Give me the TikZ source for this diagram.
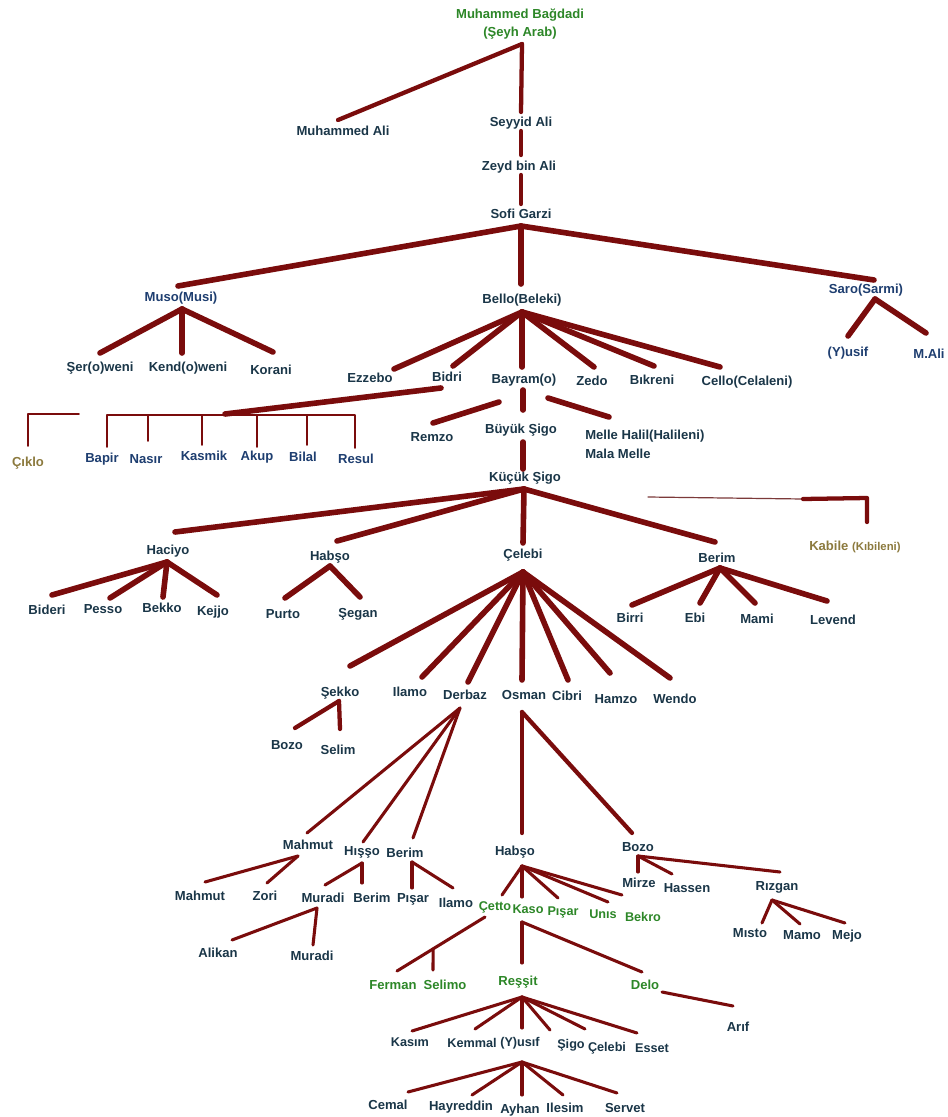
\documentclass[tikz,border=0pt]{standalone}
\usepackage{fontspec}
\setmainfont{Liberation Sans}
\usetikzlibrary{calc}
\definecolor{lnc}{RGB}{122,12,12}
\definecolor{txc}{RGB}{26,54,72}
\definecolor{blc}{RGB}{30,62,112}
\definecolor{grc}{RGB}{45,135,40}
\definecolor{olc}{RGB}{140,122,62}
\begin{document}
\begin{tikzpicture}[x=0.75pt,y=-0.75pt,line cap=round,line join=round,
  every node/.style={font=\bfseries\fontsize{9.8}{11}\selectfont,text=txc,inner sep=0pt},
  nmB/.style={text=blc},
  nmG/.style={text=grc},
  nmO/.style={text=olc},
  nmSm/.style={font=\bfseries\fontsize{9.5}{11}\selectfont},
  lnL/.style={draw=lnc,line width=4.2pt},
  lnM/.style={draw=lnc,line width=3.2pt},
  lnS/.style={draw=lnc,line width=2.3pt},
  lnT/.style={draw=lnc,line width=1.3pt},
  lnH/.style={draw=lnc!60!gray,line width=0.9pt}]
\fill[white] (0,0) rectangle (947,1117);
\useasboundingbox (0,0) rectangle (947,1117);

% ---------- top ----------
\node[nmG] (bag) at (520,15) {Muhammed Bağdadi};
\node[nmG] (seyh) at (520,33) {(Şeyh Arab)};
\coordinate (bagA) at (522,44);
\node (mali1) at (343,131) {Muhammed Ali};
\coordinate (mali1T) at (338,120);
\node (seyyid) at (521,123) {Seyyid Ali};
\coordinate (seyyidT) at (521,112);
\coordinate (seyyidB) at (521,131);
\node (zeyd) at (519,167) {Zeyd bin Ali};
\coordinate (zeydT) at (521,155);
\coordinate (zeydB) at (521,175);
\node (sofi) at (521,214) {Sofi Garzi};
\coordinate (sofiT) at (521,204);
\draw[lnM] (bagA) -- (mali1T);
\draw[lnM] (bagA) -- (seyyidT);
\draw[lnM] (seyyidB) -- (zeydT);
\draw[lnM] (zeydB) -- (sofiT);

% ---------- Sofi Garzi ----------
\coordinate (sofiA) at (521,226);
\coordinate (musoT) at (178,286);
\coordinate (belloT) at (521,284);
\coordinate (saroT) at (874,280);
\draw[lnL] (sofiA) -- (musoT);
\draw[lnL] (sofiA) -- (belloT);
\draw[lnL] (sofiA) -- (saroT);

% Muso
\node[nmB] (muso) at (181,298) {Muso(Musi)};
\coordinate (musoA) at (182,309);
\node (ser) at (100,368) {Şer(o)weni};
\node (kend) at (188,368) {Kend(o)weni};
\node (korani) at (271,370) {Korani};
\coordinate (serT) at (100,353);
\coordinate (kendT) at (182,353);
\coordinate (koraniT) at (273,352);
\draw[lnL] (musoA) -- (serT);
\draw[lnL] (musoA) -- (kendT);
\draw[lnL] (musoA) -- (koraniT);

% Bello
\node (bello) at (522,300) {Bello(Beleki)};
\coordinate (belloA) at (522,312);
\node (ezzebo) at (370,378) {Ezzebo};
\node (bidri) at (447,377) {Bidri};
\node (bayram) at (524,380) {Bayram(o)};
\node (zedo) at (592,381) {Zedo};
\node (bikreni) at (652,380) {Bıkreni};
\node (cello) at (747,382) {Cello(Celaleni)};
\coordinate (ezzeboT) at (394,369);
\coordinate (bidriT) at (453,366);
\coordinate (bayramT) at (522,367);
\coordinate (zedoT) at (594,367);
\coordinate (bikreniT) at (654,366);
\coordinate (celloT) at (720,367);
\foreach \c in {ezzeboT,bidriT,bayramT,zedoT,bikreniT,celloT}
  \draw[lnL] (belloA) -- (\c);

% Saro
\node[nmB] (saro) at (866,290) {Saro(Sarmi)};
\coordinate (saroA) at (875,299);
\node[nmB] (yusif) at (848,353) {(Y)usif};
\node[nmB] (mali2) at (929,354) {M.Ali};
\coordinate (yusifT) at (848,336);
\coordinate (mali2T) at (926,333);
\draw[lnL] (saroA) -- (yusifT);
\draw[lnL] (saroA) -- (mali2T);

% Bidri bracket
\coordinate (bidriB) at (441,388);
\coordinate (brJ) at (225,414);
\coordinate (brL) at (107,415);
\coordinate (brR) at (355,415);
\draw[lnL] (bidriB) -- (brJ);
\node[nmB] (bapir) at (102,459) {Bapir};
\node[nmB] (nasir) at (146,459) {Nasır};
\node[nmB] (kasmik) at (204,456) {Kasmik};
\node[nmB] (akup) at (257,457) {Akup};
\node[nmB] (bilal) at (303,457) {Bilal};
\node[nmB] (resul) at (356,459) {Resul};
\coordinate (bapirT) at (107,447);
\coordinate (nasirT) at (148,441);
\coordinate (kasmikT) at (202,445);
\coordinate (akupT) at (257,447);
\coordinate (bilalT) at (307,445);
\coordinate (resulT) at (355,448);
\draw[lnT] (bapirT) -- (brL) -- (brR) -- (resulT);
\foreach \c in {nasirT,kasmikT,akupT,bilalT}
  \draw[lnT] (\c) -- (\c |- brL);

% Ciklo
\node[nmO] (ciklo) at (28,463) {Çıklo};
\coordinate (cikloT) at (28,446);
\coordinate (cikL) at (28,414);
\coordinate (cikR) at (79,414);
\draw[lnT] (cikloT) -- (cikL) -- (cikR);

% Bayram
\coordinate (bayramB) at (523,390);
\node (buyuk) at (521,430) {Büyük Şigo};
\coordinate (buyukT) at (523,410);
\coordinate (buyukB) at (523,442);
\node (remzo) at (432,437) {Remzo};
\coordinate (remzoS) at (499,402);
\coordinate (remzoT) at (433,423);
\node[anchor=west] (melle) at (585,436) {Melle Halil(Halileni)};
\node[anchor=west] (mala) at (585,454) {Mala Melle};
\coordinate (melleS) at (548,398);
\coordinate (melleT) at (609,417);
\draw[lnL] (bayramB) -- (buyukT);
\draw[lnL] (remzoS) -- (remzoT);
\draw[lnL] (melleS) -- (melleT);
\node (kucuk) at (525,478) {Küçük Şigo};
\coordinate (kucukT) at (523,469);
\draw[lnL] (buyukB) -- (kucukT);

% Kucuk Sigo
\coordinate (kucukA) at (524,489);
\coordinate (haciyoT) at (175,532);
\coordinate (habsoT) at (337,541);
\coordinate (celebiT) at (523,543);
\coordinate (berimT) at (715,542);
\foreach \c in {haciyoT,habsoT,celebiT,berimT}
  \draw[lnL] (kucukA) -- (\c);

% Kabile
\coordinate (kabS) at (648,497);
\coordinate (kabM) at (803,499);
\coordinate (kabC) at (867,498);
\coordinate (kabileT) at (867,522);
\draw[lnH] (kabS) -- (kabM);
\draw[lnM] (kabM) -- (kabC) -- (kabileT);
\node[nmO,anchor=west] (kabile) at (809,547) {Kabile {\fontsize{8.5}{10}\selectfont(Kıbileni)}};

% Haciyo
\node (haciyo) at (168,551) {Haciyo};
\coordinate (haciyoA) at (167,562);
\node (bideri) at (47,610) {Bideri};
\node (pesso) at (103,609) {Pesso};
\node (bekko) at (162,608) {Bekko};
\node (kejjo) at (213,612) {Kejjo};
\coordinate (bideriT) at (52,595);
\coordinate (pessoT) at (110,598);
\coordinate (bekkoT) at (163,597);
\coordinate (kejjoT) at (217,595);
\foreach \c in {bideriT,pessoT,bekkoT,kejjoT}
  \draw[lnL] (haciyoA) -- (\c);

% Habso
\node (habso) at (330,557) {Habşo};
\coordinate (habsoA) at (330,566);
\node (purto) at (283,614) {Purto};
\node (segan) at (358,614) {Şegan};
\coordinate (purtoT) at (285,598);
\coordinate (seganT) at (360,597);
\draw[lnL] (habsoA) -- (purtoT);
\draw[lnL] (habsoA) -- (seganT);

% Berim
\node (berim) at (717,558) {Berim};
\coordinate (berimA) at (720,568);
\node (birri) at (630,618) {Birri};
\node (ebi) at (695,618) {Ebi};
\node (mami) at (757,619) {Mami};
\node (levend) at (833,620) {Levend};
\coordinate (birriT) at (632,605);
\coordinate (ebiT) at (700,603);
\coordinate (mamiT) at (755,603);
\coordinate (levendT) at (827,601);
\foreach \c in {birriT,ebiT,mamiT,levendT}
  \draw[lnL] (berimA) -- (\c);

% Celebi
\node (celebi) at (523,555) {Çelebi};
\coordinate (celebiA) at (523,572);
\node (sekko) at (340,693) {Şekko};
\node (ilamo1) at (410,692) {Ilamo};
\node (derbaz) at (465,695) {Derbaz};
\node (osman) at (524,695) {Osman};
\node (cibri) at (567,696) {Cibri};
\node (hamzo) at (616,699) {Hamzo};
\node (wendo) at (675,699) {Wendo};
\coordinate (sekkoT) at (350,666);
\coordinate (ilamo1T) at (422,677);
\coordinate (derbazT) at (468,682);
\coordinate (osmanT) at (522,680);
\coordinate (cibriT) at (568,680);
\coordinate (hamzoT) at (610,673);
\coordinate (wendoT) at (670,678);
\foreach \c in {sekkoT,ilamo1T,derbazT,osmanT,cibriT,hamzoT,wendoT}
  \draw[lnL] (celebiA) -- (\c);

% Sekko
\coordinate (sekkoA) at (339,701);
\node (bozo1) at (287,745) {Bozo};
\node (selim) at (338,750) {Selim};
\coordinate (bozo1T) at (295,728);
\coordinate (selimT) at (340,729);
\draw[lnM] (sekkoA) -- (bozo1T);
\draw[lnM] (sekkoA) -- (selimT);

% Derbaz
\coordinate (derbazA) at (460,708);
\node (mahmut) at (308,845) {Mahmut};
\node (hisso) at (362,852) {Hışşo};
\node (berim2) at (405,853) {Berim};
\coordinate (mahmutT) at (307,833);
\coordinate (hissoT) at (363,842);
\coordinate (berim2T) at (413,838);
\foreach \c in {mahmutT,hissoT,berim2T}
  \draw[lnS] (derbazA) -- (\c);

% Mahmut
\coordinate (mahmutA) at (298,856);
\node (mahmut2) at (200,896) {Mahmut};
\node (zori) at (265,896) {Zori};
\coordinate (mahmut2T) at (205,882);
\coordinate (zoriT) at (267,883);
\draw[lnS] (mahmutA) -- (mahmut2T);
\draw[lnS] (mahmutA) -- (zoriT);

% Hisso
\coordinate (hissoA) at (362,863);
\node (muradi) at (323,898) {Muradi};
\node (berim3) at (372,898) {Berim};
\coordinate (muradiT) at (325,885);
\coordinate (berim3T) at (362,883);
\draw[lnS] (hissoA) -- (muradiT);
\draw[lnS] (hissoA) -- (berim3T);

% Berim (Derbaz)
\coordinate (berim2A) at (412,862);
\node (pisar1) at (413,899) {Pışar};
\node (ilamo2) at (456,903) {Ilamo};
\coordinate (pisar1T) at (412,888);
\coordinate (ilamo2T) at (453,888);
\draw[lnS] (berim2A) -- (pisar1T);
\draw[lnS] (berim2A) -- (ilamo2T);

% Muradi
\coordinate (muradiA) at (317,908);
\node (alikan) at (218,953) {Alikan};
\node (muradi2) at (312,956) {Muradi};
\coordinate (alikanT) at (232,940);
\coordinate (muradi2T) at (313,945);
\draw[lnS] (muradiA) -- (alikanT);
\draw[lnS] (muradiA) -- (muradi2T);

% Osman
\coordinate (osmanA) at (522,712);
\node (habso2) at (515,852) {Habşo};
\node (bozo2) at (638,847) {Bozo};
\coordinate (habso2T) at (522,833);
\coordinate (bozo2T) at (632,833);
\draw[lnM] (osmanA) -- (habso2T);
\draw[lnM] (osmanA) -- (bozo2T);

% Habso (Osman)
\coordinate (habso2A) at (522,866);
\node[nmG,nmSm] (cetto) at (495,907) {Çetto};
\node[nmG,nmSm] (kaso) at (528,909) {Kaso};
\node[nmG,nmSm] (pisar2) at (563,912) {Pışar};
\node[nmG,nmSm] (unis) at (603,914) {Unıs};
\node[nmG,nmSm] (bekro) at (643,917) {Bekro};
\coordinate (cettoT) at (502,895);
\coordinate (kasoT) at (522,897);
\coordinate (pisar2T) at (558,898);
\coordinate (unisT) at (608,902);
\coordinate (bekroT) at (622,895);
\foreach \c in {cettoT,kasoT,pisar2T,unisT,bekroT}
  \draw[lnS] (habso2A) -- (\c);

% Bozo (Osman)
\coordinate (bozo2A) at (638,856);
\node (mirze) at (639,883) {Mirze};
\node (hassen) at (687,888) {Hassen};
\node (rizgan) at (777,887) {Rızgan};
\coordinate (mirzeT) at (638,872);
\coordinate (hassenT) at (672,874);
\coordinate (rizganT) at (780,872);
\foreach \c in {mirzeT,hassenT,rizganT}
  \draw[lnS] (bozo2A) -- (\c);

% Rizgan
\coordinate (rizganA) at (772,900);
\node (misto) at (750,933) {Mısto};
\node (mamo) at (802,935) {Mamo};
\node (mejo) at (847,936) {Mejo};
\coordinate (mistoT) at (762,923);
\coordinate (mamoT) at (800,924);
\coordinate (mejoT) at (845,923);
\foreach \c in {mistoT,mamoT,mejoT}
  \draw[lnS] (rizganA) -- (\c);

% Cetto
\coordinate (cettoB) at (485,917);
\node[nmG] (ferman) at (393,985) {Ferman};
\node[nmG] (selimo) at (445,985) {Selimo};
\coordinate (fermanT) at (397,971);
\coordinate (selJ) at ($(cettoB)!0.59!(fermanT)$);
\coordinate (selimoT) at (433,970);
\draw[lnS] (cettoB) -- (fermanT);
\draw[lnS] (selJ) -- (selimoT);

% Kaso
\coordinate (kasoA) at (522,922);
\node[nmG] (ressit) at (518,982) {Reşşit};
\node[nmG] (delo) at (645,985) {Delo};
\coordinate (ressitT) at (522,963);
\coordinate (deloT) at (642,972);
\draw[lnS] (kasoA) -- (ressitT);
\draw[lnS] (kasoA) -- (deloT);

% Delo
\coordinate (deloB) at (662,992);
\node (arif) at (738,1027) {Arıf};
\coordinate (arifT) at (733,1006);
\draw[lnS] (deloB) -- (arifT);

% Ressit
\coordinate (ressitA) at (522,997);
\node[nmSm] (kasim) at (410,1042) {Kasım};
\node[nmSm] (kemmal) at (472,1043) {Kemmal};
\node[nmSm] (yusif2) at (520,1043) {(Y)usıf};
\node[nmSm] (sigo) at (571,1045) {Şigo};
\node[nmSm] (celebi2) at (607,1048) {Çelebi};
\node[nmSm] (esset) at (652,1048) {Esset};
\coordinate (kasimT) at (412,1031);
\coordinate (kemmalT) at (475,1029);
\coordinate (yusif2T) at (522,1028);
\coordinate (sigoT) at (550,1030);
\coordinate (celebi2T) at (585,1029);
\coordinate (essetT) at (637,1033);
\foreach \c in {kasimT,kemmalT,yusif2T,sigoT,celebi2T,essetT}
  \draw[lnS] (ressitA) -- (\c);

% Yusif
\coordinate (yusif2A) at (522,1062);
\node (cemal) at (388,1105) {Cemal};
\node (hayreddin) at (461,1107) {Hayreddin};
\node (ayhan) at (520,1110) {Ayhan};
\node (ilesim) at (565,1108) {Ilesim};
\node (servet) at (625,1108) {Servet};
\coordinate (cemalT) at (408,1092);
\coordinate (hayreddinT) at (472,1095);
\coordinate (ayhanT) at (522,1095);
\coordinate (ilesimT) at (563,1095);
\coordinate (servetT) at (617,1093);
\foreach \c in {cemalT,hayreddinT,ayhanT,ilesimT,servetT}
  \draw[lnS] (yusif2A) -- (\c);
\end{tikzpicture}
\end{document}
